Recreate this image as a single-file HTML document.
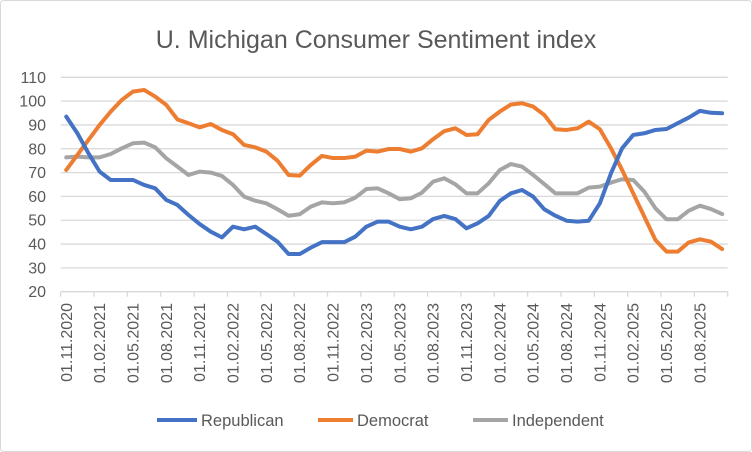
<!DOCTYPE html>
<html><head><meta charset="utf-8"><style>
body{margin:0;background:#fff;}
svg{display:block;font-family:"Liberation Sans",sans-serif;}
</style></head><body>
<svg id="chart" width="752" height="452">
<rect x="0.5" y="0.5" width="751" height="451" rx="3" fill="#fff" stroke="#d9d9d9"/>
<text x="376" y="48" text-anchor="middle" font-size="25" fill="#595959">U. Michigan Consumer  Sentiment index</text>
<g id="grid"></g><g id="ylab"></g><g id="xlab"></g><g id="lines"></g>
<g>
<line x1="157" y1="420" x2="197" y2="420" stroke="#4472c4" stroke-width="4"/>
<text x="201" y="426" font-size="16.5" fill="#595959">Republican</text>
<line x1="318" y1="420" x2="353" y2="420" stroke="#ed7d31" stroke-width="4"/>
<text x="357" y="426" font-size="16.5" fill="#595959">Democrat</text>
<line x1="473" y1="420" x2="508" y2="420" stroke="#a5a5a5" stroke-width="4"/>
<text x="512" y="426" font-size="16.5" fill="#595959">Independent</text>
</g>
</svg>
<script>
const yTicks=[20,30,40,50,60,70,80,90,100,110];
const xTickLabels=["01.11.2020","01.02.2021","01.05.2021","01.08.2021","01.11.2021","01.02.2022","01.05.2022","01.08.2022","01.11.2022","01.02.2023","01.05.2023","01.08.2023","01.11.2023","01.02.2024","01.05.2024","01.08.2024","01.11.2024","01.02.2025","01.05.2025","01.08.2025"];
const republican=[93.5,86.5,78.1,70.4,66.9,66.9,66.9,64.8,63.4,58.5,56.4,52.2,48.4,45.2,42.8,47.3,46.2,47.3,44.2,41,35.8,35.8,38.5,40.8,40.8,40.8,43.1,47.3,49.4,49.4,47.3,46.2,47.3,50.5,51.8,50.5,46.6,48.7,51.8,58.1,61.3,62.7,59.9,54.6,51.9,49.8,49.4,49.8,57.1,69.7,80.2,85.8,86.5,87.9,88.3,90.7,93.1,95.9,95.1,94.9];
const democrat=[71.1,77.4,83.7,90,95.6,100.5,104,104.7,101.9,98.4,92.3,90.7,89,90.4,87.9,86.1,81.6,80.6,78.8,75,69,68.7,73.2,77,76.1,76.1,76.7,79.2,78.8,79.9,79.9,78.8,80.2,84,87.4,88.6,85.8,86.1,92.1,95.6,98.6,99.1,97.7,94.2,88.2,87.9,88.6,91.4,88.2,80.2,71.1,61.3,51.5,41.7,36.8,36.8,40.7,42,41,37.9];
const independent=[76.4,76.7,76.4,76.4,77.8,80.2,82.3,82.6,80.6,76,72.5,69,70.4,70,68.6,64.8,59.9,58.2,57.1,54.6,51.9,52.5,55.7,57.5,57.1,57.5,59.5,63.1,63.4,61.3,58.8,59.2,61.6,66.2,67.6,65.1,61.3,61.3,65.5,71.1,73.6,72.5,69,65.2,61.3,61.3,61.3,63.7,64.1,65.8,67.2,66.9,62,55,50.4,50.4,54,56.1,54.7,52.6];
const NS="http://www.w3.org/2000/svg";
const X0=60.7,X1=727.7,N=republican.length,step=(X1-X0)/N;
const Y20=291.7,Y110=77.3;
function xs(i){return X0+step*(i+0.5);}
function ys(v){return Y20-(v-20)*(Y20-Y110)/90;}
function mk(tag,attrs,parent){const e=document.createElementNS(NS,tag);for(const k in attrs)e.setAttribute(k,attrs[k]);parent.appendChild(e);return e;}
const grid=document.getElementById('grid'),ylab=document.getElementById('ylab'),xlab=document.getElementById('xlab'),lines=document.getElementById('lines');
yTicks.forEach(v=>{
  const l=mk('line',{x1:X0,x2:X1,y1:ys(v),y2:ys(v),stroke:'#d9d9d9','stroke-width':1.3},grid);
  
  
  const t=mk('text',{x:46,y:ys(v)+5.5,'text-anchor':'end','font-size':16,fill:'#595959'},ylab);
  t.textContent=v;
  
  
});
for(let k=0;k<=Math.round(N/3);k++){
  const x=X0+step*3*k;
  const tk=mk('line',{x1:x,x2:x,y1:Y20,y2:Y20+5,stroke:'#d9d9d9','stroke-width':1.3},grid);
  
  
}
xTickLabels.forEach((s,k)=>{
  const x=xs(k*3)+5.5,y=303;
  const t=mk('text',{x:x,y:y,'text-anchor':'end','font-size':16,fill:'#595959',transform:`rotate(-90 ${x} ${y})`},xlab);
  t.textContent=s;
  
  
});
[[independent,'#a5a5a5','independent-line'],[democrat,'#ed7d31','democrat-line'],[republican,'#4472c4','republican-line']].forEach(([d,c,n])=>{
  const p=mk('polyline',{points:d.map((v,i)=>xs(i)+','+ys(v)).join(' '),fill:'none',stroke:c,'stroke-width':4,'stroke-linejoin':'round','stroke-linecap':'round'},lines);
  
  
});
</script>
</body></html>
